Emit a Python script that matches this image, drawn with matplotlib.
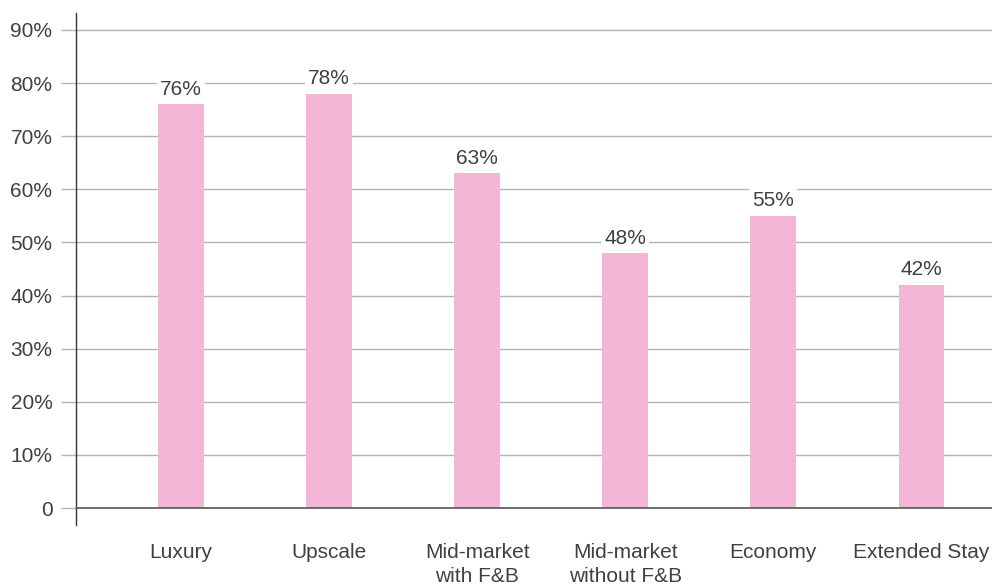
import matplotlib
matplotlib.use("Agg")
import matplotlib.pyplot as plt
import numpy as np

categories = ["Luxury", "Upscale", "Mid-market\nwith F&B", "Mid-market\nwithout F&B",
              "Economy", "Extended Stay"]
values = [76, 78, 63, 48, 55, 42]
y_ticks = [0, 10, 20, 30, 40, 50, 60, 70, 80, 90]
y_tick_labels = ["0", "10%", "20%", "30%", "40%", "50%", "60%", "70%", "80%", "90%"]

plt.rcParams['font.family'] = ['Liberation Sans', 'DejaVu Sans']
TEXT = "#404040"
BAR = "#F4B6D6"
GRID = "#b4b4b4"

fig = plt.figure(figsize=(9.92, 5.86), dpi=100)
ax = fig.add_axes([76/992, 61/586, 1 - 76/992, (525-13)/586])

x = np.arange(len(categories))
bars = ax.bar(x, values, width=0.31, color=BAR, zorder=2)

for xi, v in zip(x, values):
    ax.annotate(f"{v}%", (xi, v), xytext=(0, 4), textcoords="offset points",
                ha="center", va="bottom", fontsize=15, color=TEXT, zorder=4,
                bbox=dict(boxstyle="square,pad=0.15", fc="white", ec="none"))

ax.set_xlim(-0.709, 5.476)
ax.set_ylim(-3.2, 93.2)
ax.set_yticks(y_ticks)
ax.set_yticklabels(y_tick_labels, fontsize=15, color=TEXT)
ax.set_xticks(x)
ax.set_xticklabels(categories, fontsize=15, color=TEXT, linespacing=1.3)
ax.tick_params(axis='x', length=0, pad=13)
ax.tick_params(axis='y', length=11, width=1, color=GRID, pad=6)
ax.yaxis.get_major_ticks()[0].tick1line.set_color("#555555")

for t in y_ticks[1:]:
    ax.axhline(t, color=GRID, lw=1, zorder=1)
ax.axhline(0, color="#555555", lw=1.2, zorder=3)

for s in ["top", "right", "bottom"]:
    ax.spines[s].set_visible(False)
ax.spines["left"].set_color("#333333")
ax.spines["left"].set_linewidth(1)

fig.savefig("out.png", dpi=100)
